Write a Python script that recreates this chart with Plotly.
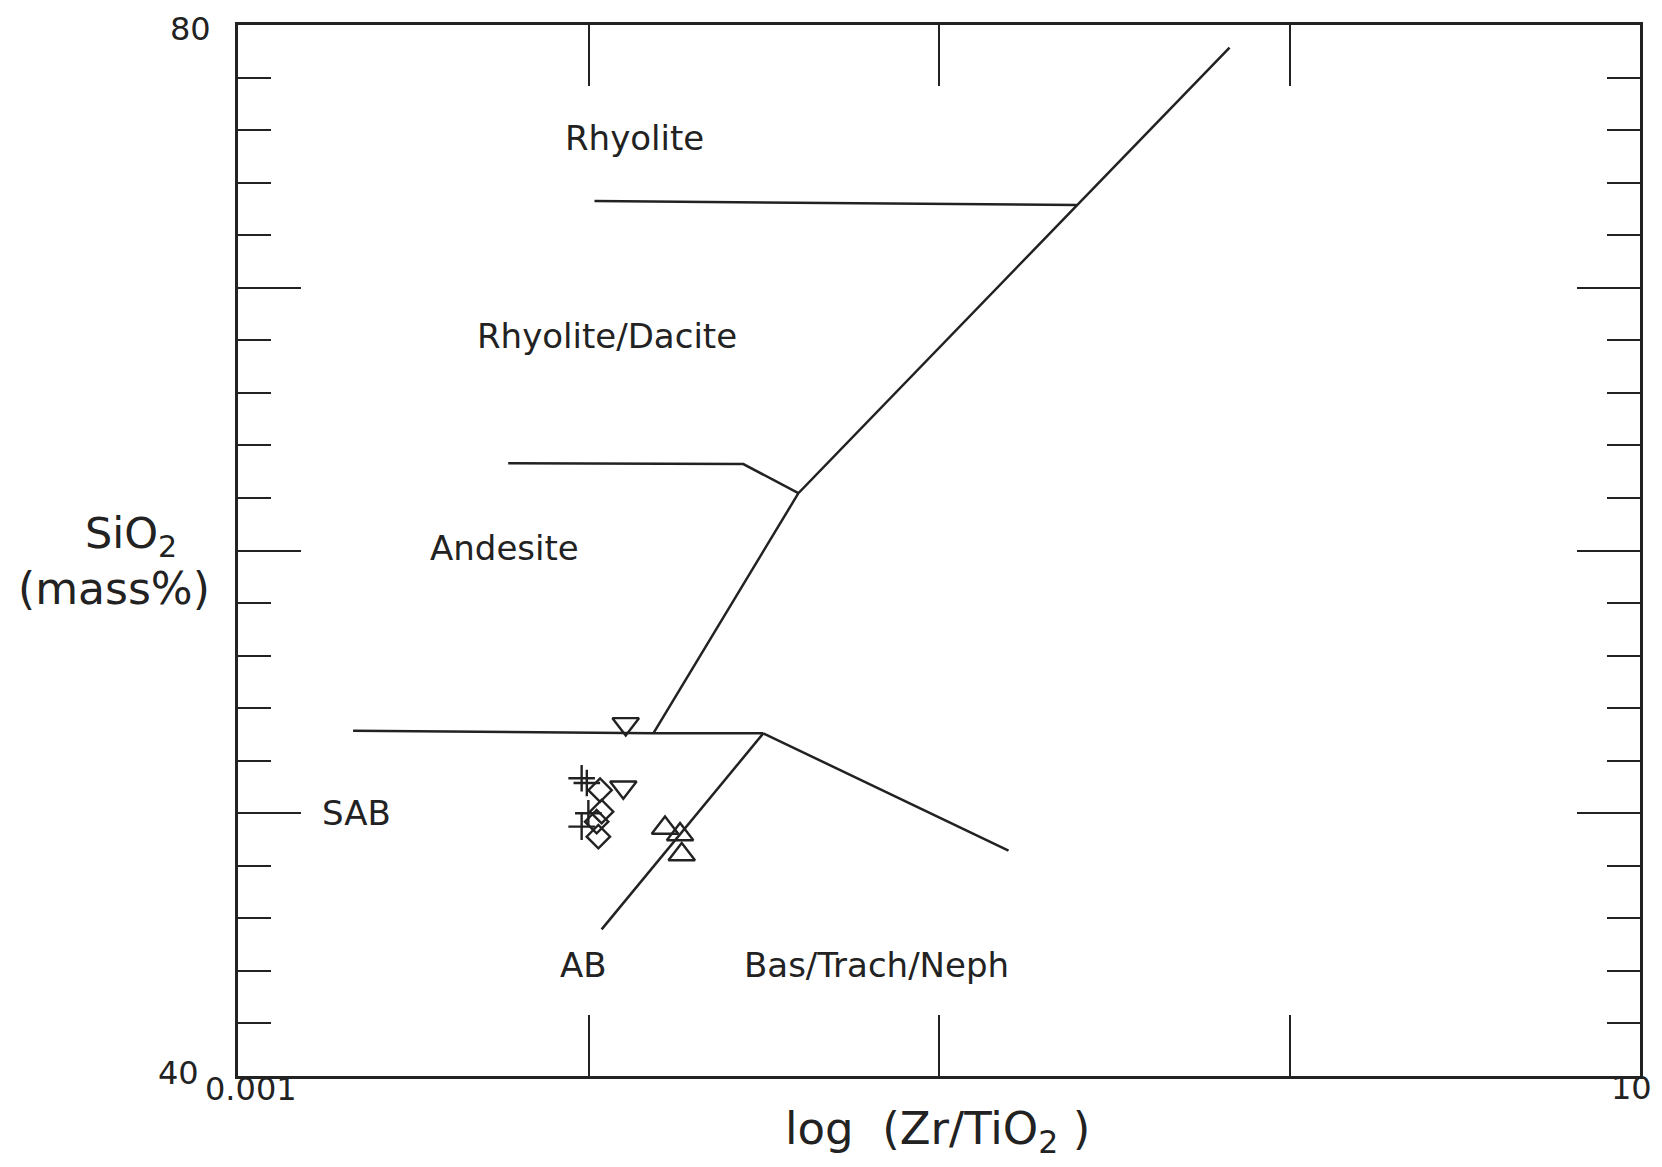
import math
import plotly.graph_objects as go

# ---- Data ----
# Field boundary lines (Zr/TiO2, SiO2)
rhy_x = [0.0104, 0.247]
rhy_y = [73.3, 73.15]

diag_x = [0.6745, 0.0397, 0.01531]
diag_y = [79.14, 62.18, 53.04]

and_x = [0.0059, 0.02765, 0.0397]
and_y = [63.32, 63.29, 62.18]

sab_x = [0.00213, 0.01531, 0.03153]
sab_y = [53.14, 53.04, 53.04]

ab_x = [0.0109, 0.03153]
ab_y = [45.58, 53.04]

bas_x = [0.03153, 0.1579]
bas_y = [53.04, 48.58]

# Samples
tri_down_x = [0.01277, 0.01257]
tri_down_y = [53.4, 50.99]

cross_x = [0.00956, 0.00989, 0.00999, 0.00956]
cross_y = [51.33, 51.15, 50.0, 49.49]

diamond_x = [0.01079, 0.0109, 0.01055, 0.01067]
diamond_y = [50.88, 50.06, 49.68, 49.11]

tri_up_x = [0.01653, 0.01825, 0.01845]
tri_up_y = [49.44, 49.19, 48.43]

# Field names and their positions
field_names = ["Rhyolite", "Rhyolite/Dacite", "Andesite", "SAB", "AB", "Bas/Trach/Neph"]
field_x = [0.01357, 0.01127, 0.00574, 0.00218, 0.00967, 0.0664]
field_y = [75.71, 68.18, 60.08, 50.0, 44.24, 44.24]

x_tickvals = [0.001, 0.01, 0.1, 1, 10]
x_ticktext = ["0.001", "", "", "", "10"]
y_tickvals = [40, 50, 60, 70, 80]
y_ticktext = ["40", "", "", "", "80"]

INK = "#222222"
FONT = "DejaVu Sans"

fig = go.Figure()

for xs, ys in [(rhy_x, rhy_y), (diag_x, diag_y), (and_x, and_y),
               (sab_x, sab_y), (ab_x, ab_y), (bas_x, bas_y)]:
    fig.add_trace(go.Scatter(x=xs, y=ys, mode="lines",
                             line=dict(color=INK, width=2.5), showlegend=False,
                             hoverinfo="skip"))

marker_sets = [
    (tri_down_x, tri_down_y, "triangle-down-open", 23),
    (cross_x, cross_y, "cross-thin-open", 19),
    (diamond_x, diamond_y, "diamond-open", 18),
    (tri_up_x, tri_up_y, "triangle-up-open", 23),
]
for xs, ys, sym, sz in marker_sets:
    fig.add_trace(go.Scatter(x=xs, y=ys, mode="markers", showlegend=False,
                             marker=dict(symbol=sym, size=sz, color=INK,
                                         line=dict(color=INK, width=2.4))))

for name, fx, fy in zip(field_names, field_x, field_y):
    fig.add_annotation(x=math.log10(fx), y=fy, xref="x", yref="y", text=name,
                       showarrow=False, font=dict(family=FONT, size=34, color=INK),
                       xanchor="center", yanchor="middle")

# Tick labels (only the end values are labelled in the reference)
tick_font = dict(family=FONT, size=32, color=INK)
x_label_shift = {"0.001": (13, -13), "10": (-9, -12)}
for tv, tt in zip(x_tickvals, x_ticktext):
    if tt:
        dx, dy = x_label_shift[tt]
        fig.add_annotation(x=math.log10(tv), y=0, xref="x", yref="paper",
                           text=tt, showarrow=False, font=tick_font,
                           xanchor="center", yanchor="middle",
                           xshift=dx, yshift=dy)
y_label_shift = {"40": (-37, 3), "80": (-25, -4)}
for tv, tt in zip(y_tickvals, y_ticktext):
    if tt:
        dx, dy = y_label_shift[tt]
        fig.add_annotation(x=0, y=tv, xref="paper", yref="y",
                           text=tt, showarrow=False, font=tick_font,
                           xanchor="right", yanchor="middle",
                           xshift=dx, yshift=dy)

# Axis titles as annotations
fig.add_annotation(x=-0.0763, y=0.5138, xref="paper", yref="paper",
                   text="SiO<sub>2</sub>", showarrow=False,
                   font=dict(family=FONT, size=43, color=INK),
                   xanchor="center", yanchor="middle")
fig.add_annotation(x=-0.0884, y=0.4643, xref="paper", yref="paper",
                   text="(mass%)", showarrow=False,
                   font=dict(family=FONT, size=44, color=INK),
                   xanchor="center", yanchor="middle")
fig.add_annotation(x=0.4986, y=-0.0525, xref="paper", yref="paper",
                   text="log  (Zr/TiO<sub>2</sub> )", showarrow=False,
                   font=dict(family=FONT, size=45, color=INK),
                   xanchor="center", yanchor="middle")

fig.update_xaxes(type="log", range=[-3, 1], tickvals=x_tickvals,
                 showticklabels=False,
                 ticks="inside", ticklen=61, tickwidth=2.3, tickcolor=INK,
                 showline=True, linewidth=3, linecolor=INK, mirror="ticks",
                 showgrid=False, zeroline=False, automargin=False)
fig.update_yaxes(range=[40, 80], tickvals=y_tickvals, showticklabels=False,
                 ticks="inside", ticklen=63, tickwidth=2.3, tickcolor=INK,
                 minor=dict(dtick=2, ticks="inside", ticklen=33, tickwidth=2.3,
                            tickcolor=INK, showgrid=False),
                 showline=True, linewidth=3, linecolor=INK, mirror="ticks",
                 showgrid=False, zeroline=False, automargin=False)

fig.update_layout(width=1646, height=1151,
                  margin=dict(l=230, r=14, t=17, b=83),
                  paper_bgcolor="white", plot_bgcolor="white",
                  font=dict(family=FONT, color=INK), showlegend=False)

fig.write_html("out.html")
